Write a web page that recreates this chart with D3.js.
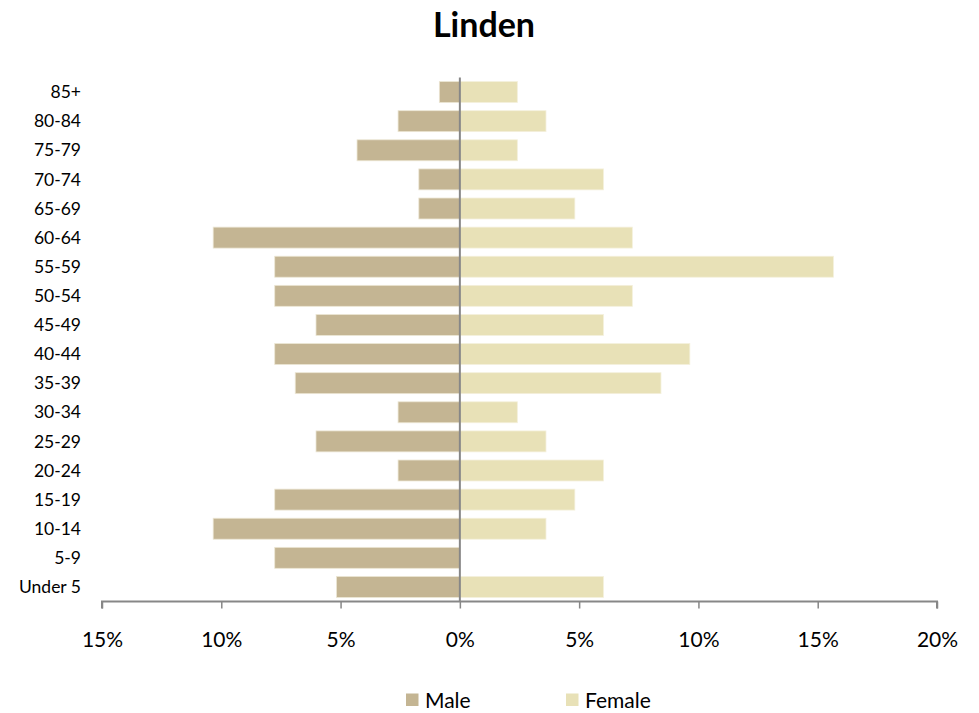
<!DOCTYPE html>
<html>
<head>
<meta charset="utf-8">
<script src="https://cdn.jsdelivr.net/npm/d3@7"></script>
<style>
	body { margin: 0; background: #fff; }
	text { font-family: Lato, "Open Sans", sans-serif; fill: #000; }
</style>
</head>
<body>
<svg width="979" height="713"></svg>
<script>
var ageGroups = ["85+", "80-84", "75-79", "70-74", "65-69", "60-64", "55-59", "50-54", "45-49",
	"40-44", "35-39", "30-34", "25-29", "20-24", "15-19", "10-14", "5-9", "Under 5"];
var maleValues = [0.86, 2.59, 4.31, 1.72, 1.72, 10.34, 7.76, 7.76, 6.03,
	7.76, 6.9, 2.59, 6.03, 2.59, 7.76, 10.34, 7.76, 5.17];
var femaleValues = [2.41, 3.61, 2.41, 6.02, 4.82, 7.23, 15.66, 7.23, 6.02,
	9.64, 8.43, 2.41, 3.61, 6.02, 4.82, 3.61, 0, 6.02];
var xTicks = [-15, -10, -5, 0, 5, 10, 15, 20];
var seriesNames = ["Male", "Female"];
var seriesColors = ["#c4b593", "#e8e1b7"];

var svg = d3.select("svg");

var x = d3.scaleLinear().domain([-15, 20]).range([102, 937]);
var y = d3.scaleBand().domain(ageGroups).range([77.5, 601.5]).paddingInner(0.28).paddingOuter(0.14);

// title
svg.append("text")
	.attr("x", 484)
	.attr("y", 37)
	.attr("text-anchor", "middle")
	.style("font-size", "34px")
	.style("font-weight", "bold")
	.text("Linden");

var g = svg.append("g");

// male bars (left)
g.selectAll(".male")
	.data(ageGroups)
	.enter().append("rect")
		.attr("class", "male")
		.attr("x", function(d, i) { return x(-maleValues[i]); })
		.attr("y", function(d) { return y(d); })
		.attr("width", function(d, i) { return x(0) - x(-maleValues[i]); })
		.attr("height", y.bandwidth())
		.attr("fill", seriesColors[0])
		.attr("stroke", "#ece6d4")
		.attr("stroke-width", 0.8);

// female bars (right)
g.selectAll(".female")
	.data(ageGroups)
	.enter().append("rect")
		.attr("class", "female")
		.attr("x", x(0))
		.attr("y", function(d) { return y(d); })
		.attr("width", function(d, i) { return x(femaleValues[i]) - x(0); })
		.attr("height", y.bandwidth())
		.attr("fill", seriesColors[1])
		.attr("stroke", "#f4f0dc")
		.attr("stroke-width", 0.8)
		.style("display", function(d, i) { return femaleValues[i] > 0 ? null : "none"; });

// x axis
var xAxis = svg.append("g")
	.attr("transform", "translate(0,601.5)")
	.call(d3.axisBottom(x)
		.tickValues(xTicks)
		.tickSize(7)
		.tickPadding(24)
		.tickFormat(function(d) { return Math.abs(d) + "%"; }));
xAxis.select(".domain").attr("stroke", "#878787").attr("stroke-width", 2)
	.attr("d", "M" + x(-15) + ",7V0H" + x(20) + "V7");
xAxis.selectAll(".tick line").attr("stroke", "#878787").attr("stroke-width", 1.5);
xAxis.selectAll(".tick text")
	.style("font-family", "Lato, 'Open Sans', sans-serif")
	.style("font-size", "21px")
	.attr("fill", "#000");

// vertical zero line
svg.append("line")
	.attr("x1", x(0)).attr("x2", x(0))
	.attr("y1", 77.5).attr("y2", 601.5)
	.attr("stroke", "#878787")
	.attr("stroke-width", 2);

// category labels
svg.append("g").selectAll("text")
	.data(ageGroups)
	.enter().append("text")
		.attr("x", 81)
		.attr("y", function(d) { return y(d) + y.bandwidth() / 2; })
		.attr("dy", "0.35em")
		.attr("text-anchor", "end")
		.style("font-size", "17.5px")
		.text(function(d) { return d; });

// legend
var legendX = [406, 566];
var legend = svg.append("g").selectAll("g")
	.data(seriesNames)
	.enter().append("g")
		.attr("transform", function(d, i) { return "translate(" + legendX[i] + ",693.5)"; });
legend.append("rect")
	.attr("width", 12.5).attr("height", 12.5)
	.attr("fill", function(d, i) { return seriesColors[i]; });
legend.append("text")
	.attr("x", 19)
	.attr("y", 6.5)
	.attr("dy", "0.36em")
	.style("font-size", "21px")
	.text(function(d) { return d; });
</script>
</body>
</html>
